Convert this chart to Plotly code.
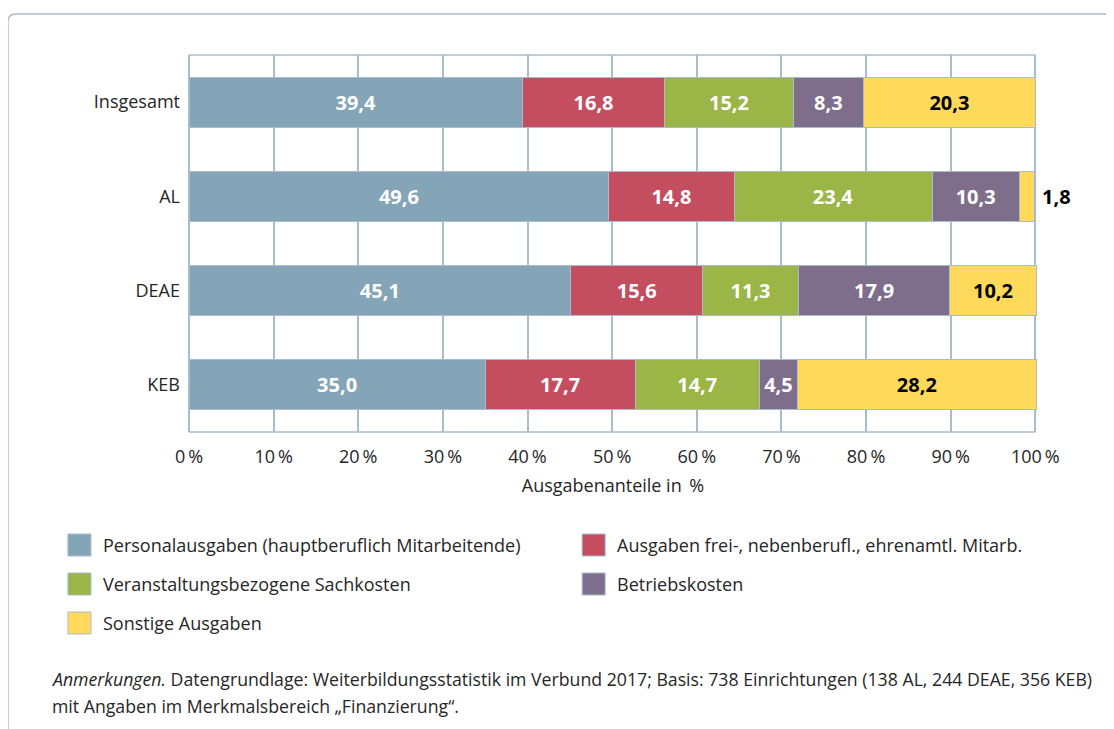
import plotly.graph_objects as go

categories = ["Insgesamt", "AL", "DEAE", "KEB"]
series_names = [
    "Personalausgaben (hauptberuflich Mitarbeitende)",
    "Ausgaben frei-, nebenberufl., ehrenamtl. Mitarb.",
    "Veranstaltungsbezogene Sachkosten",
    "Betriebskosten",
    "Sonstige Ausgaben",
]
personal = [39.4, 49.6, 45.1, 35.0]
frei = [16.8, 14.8, 15.6, 17.7]
sach = [15.2, 23.4, 11.3, 14.7]
betrieb = [8.3, 10.3, 17.9, 4.5]
sonstige = [20.3, 1.8, 10.2, 28.2]
series_values = [personal, frei, sach, betrieb, sonstige]
colors = ["#84a5b8", "#c44d60", "#9bb547", "#7e6e8b", "#ffd95a"]
tick_vals = [0, 10, 20, 30, 40, 50, 60, 70, 80, 90, 100]
tick_text = [f"{v}\u2009%" for v in tick_vals]

X_MAX = 100.2  # rounded shares sum slightly above 100
OFF = 8  # default page body margin
W, H = 1114 - OFF, 729 - OFF
L_PX, T_PX, B_PX = 189, 55, 432  # plot area in screenshot pixels
R_PX = L_PX + (1035 - L_PX) * X_MAX / 100
ML, MT = L_PX - OFF, T_PX - OFF
MR, MB = W - (R_PX - OFF), H - (B_PX - OFF)
PW, PH = W - ML - MR, H - MT - MB
FONT = "Open Sans"
GRID = "#a9bccb"
TXT = "#262626"

def fmt(v):
    return f"{v:.1f}".replace(".", ",")

def px(x):
    return (x - L_PX) / PW

def py(y):
    return (B_PX - y) / PH

fig = go.Figure()
small_outside = []
for name, vals, col in zip(series_names, series_values, colors):
    is_last = name == series_names[-1]
    texts = []
    for cat, v in zip(categories, vals):
        if is_last and v < 5:
            texts.append("")
            small_outside.append((cat, v))
        else:
            texts.append(fmt(v))
    fig.add_trace(go.Bar(
        y=categories, x=vals, name=name, orientation="h",
        marker=dict(color=col, line=dict(color=GRID, width=1)),
        text=texts, textposition="inside", textangle=0, insidetextanchor="middle",
        insidetextfont=dict(family=FONT, size=20, color="#000000" if is_last else "#ffffff", weight="bold"),
        cliponaxis=False, showlegend=False, width=0.53,
    ))

totals = {c: sum(s[i] for s in series_values) for i, c in enumerate(categories)}

annotations = []
for cat, v in small_outside:
    annotations.append(dict(x=totals[cat], y=cat, xref="x", yref="y", xanchor="left", yanchor="middle",
                            xshift=6, showarrow=False, text=fmt(v),
                            font=dict(family=FONT, size=20, color="#000000", weight="bold")))

shapes = []
# frame
x0 = px(8); x1 = px(1130); ytop = py(14); ybot = py(740)
shapes.append(dict(type="path", xref="paper", yref="paper",
                   path=f"M {x0},{ybot} L {x0},{py(22)} Q {x0},{ytop} {px(16)},{ytop} L {x1},{ytop}",
                   line=dict(color=GRID, width=1.5)))
# right border of plot box at 100 %
shapes.append(dict(type="line", xref="x", yref="paper", x0=100, x1=100, y0=0, y1=1,
                   line=dict(color=GRID, width=1.5), layer="below"))

legend_pos = [(68, 545), (582, 545), (68, 584), (582, 584), (68, 623)]
for (lx, ly), name, col in zip(legend_pos, series_names, colors):
    shapes.append(dict(type="rect", xref="paper", yref="paper",
                       x0=px(lx), x1=px(lx + 23), y0=py(ly + 11), y1=py(ly - 11),
                       fillcolor=col, line=dict(color=GRID, width=1)))
    annotations.append(dict(xref="paper", yref="paper", x=px(lx + 33), y=py(ly),
                            xanchor="left", yanchor="middle", showarrow=False,
                            text=name, font=dict(family=FONT, size=18, color=TXT)))

annotations.append(dict(xref="paper", yref="paper", x=px(50), y=py(679), xanchor="left", yanchor="middle",
                        showarrow=False, align="left",
                        text="<i>Anmerkungen.</i> Datengrundlage: Weiterbildungsstatistik im Verbund 2017; Basis: 738 Einrichtungen (138 AL, 244 DEAE, 356 KEB)",
                        font=dict(family=FONT, size=17.7, color=TXT)))
annotations.append(dict(xref="paper", yref="paper", x=px(50), y=py(706), xanchor="left", yanchor="middle",
                        showarrow=False, align="left",
                        text="mit Angaben im Merkmalsbereich „Finanzierung“.",
                        font=dict(family=FONT, size=17.7, color=TXT)))

# top and bottom frame lines of the plot box (without extending past 100 %)
for yy in (0, 1):
    shapes.append(dict(type="line", xref="x", yref="paper", x0=0, x1=100, y0=yy, y1=yy,
                       line=dict(color=GRID, width=1.5), layer="below"))

fig.update_layout(
    width=W, height=H, barmode="stack",
    margin=dict(l=ML, r=MR, t=MT, b=MB, pad=0),
    paper_bgcolor="white", plot_bgcolor="white",
    font=dict(family=FONT, size=18, color=TXT),
    shapes=shapes, annotations=annotations,
    uniformtext=dict(minsize=20, mode="show"),
    xaxis=dict(range=[0, X_MAX], tickvals=tick_vals, ticktext=tick_text,
               showgrid=True, gridcolor=GRID, gridwidth=1.5,
               showline=False, zeroline=True, zerolinecolor=GRID, zerolinewidth=1.5,
               ticks="", ticklabelstandoff=12,
               tickfont=dict(family=FONT, size=18, color=TXT),
               title=dict(text="Ausgabenanteile in \u2009%", standoff=12,
                          font=dict(family=FONT, size=18, color=TXT)),
               fixedrange=True),
    yaxis=dict(categoryorder="array", categoryarray=categories[::-1],
               showgrid=False, showline=False, ticks="", ticklabelstandoff=8,
               tickfont=dict(family=FONT, size=18, color=TXT),
               fixedrange=True),
)

fig.write_html("out.html")
